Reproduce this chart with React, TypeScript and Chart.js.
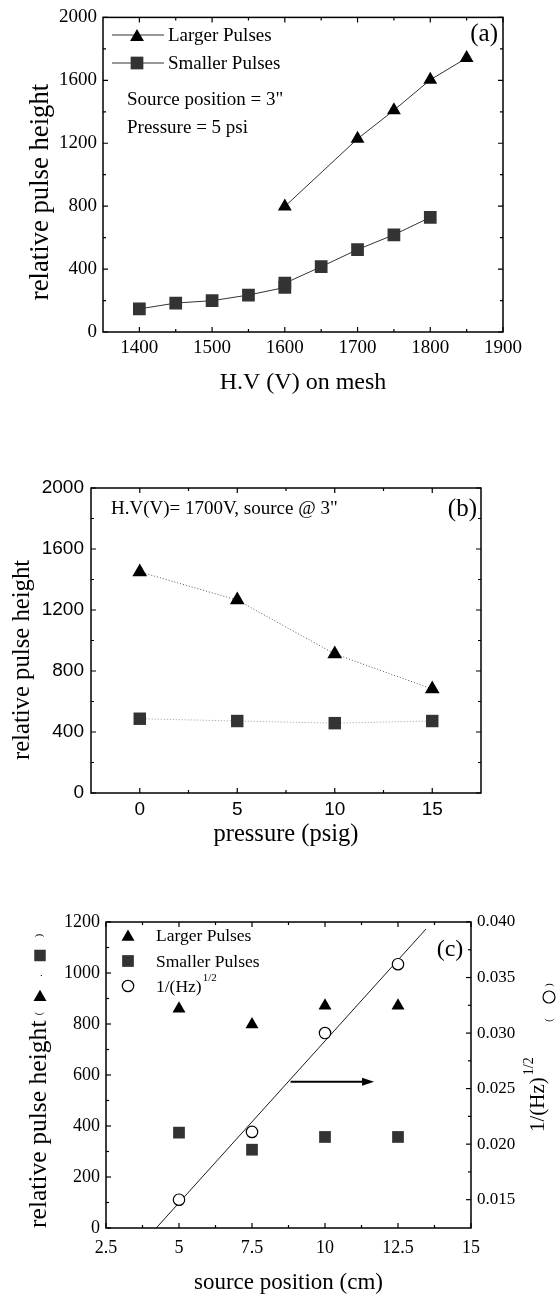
import React, { useEffect, useRef } from 'react';
import { Chart, registerables } from 'chart.js';

Chart.register(...registerables);

const SERIF = "'Liberation Serif', 'Times New Roman', serif";
const SANS = "'Liberation Sans', Arial, sans-serif";

// ---------- Panel (a) ----------
const A_HV_LARGER = [1600, 1700, 1750, 1800, 1850];
const A_LARGER = [798, 1228, 1410, 1603, 1742];
const A_HV_SMALLER = [1400, 1450, 1500, 1550, 1600, 1600, 1650, 1700, 1750, 1800];
const A_SMALLER = [147, 184, 199, 235, 283, 310, 415, 524, 618, 729];
const A_X_TICKS = [1400, 1500, 1600, 1700, 1800, 1900];
const A_X_MINOR = [1450, 1550, 1650, 1750, 1850];
const A_Y_TICKS = [0, 400, 800, 1200, 1600, 2000];
const A_Y_MINOR = [200, 600, 1000, 1400, 1800];

// ---------- Panel (b) ----------
const B_PRESSURE = [0, 5, 10, 15];
const B_LARGER = [1450, 1265, 912, 682];
const B_SMALLER = [487, 472, 458, 472];
const B_X_TICKS = [0, 5, 10, 15];
const B_X_MINOR = [2.5, 7.5, 12.5];
const B_Y_TICKS = [0, 400, 800, 1200, 1600, 2000];
const B_Y_MINOR = [200, 600, 1000, 1400, 1800];

// ---------- Panel (c) ----------
const C_POSITION = [5, 7.5, 10, 12.5];
const C_LARGER = [860, 798, 872, 872];
const C_SMALLER = [374, 307, 357, 357];
const C_INV_SQRT_HZ = [0.015, 0.0211, 0.03, 0.0362];
const C_FIT_X = [4.22, 13.46];
const C_FIT_Y = [0.01245, 0.03937];
const C_X_TICKS = [2.5, 5, 7.5, 10, 12.5, 15];
const C_X_MINOR = [3.75, 6.25, 8.75, 11.25, 13.75];
const C_Y_TICKS = [0, 200, 400, 600, 800, 1000, 1200];
const C_Y_MINOR = [100, 300, 500, 700, 900, 1100];
const C_Y2_TICKS = [0.015, 0.02, 0.025, 0.03, 0.035, 0.04];
const C_Y2_MINOR = [0.0175, 0.0225, 0.0275, 0.0325, 0.0375];
const C_ARROW_X = [8.82, 11.68];
const C_ARROW_Y = 574;

type TickSpec = { id: string; sides: string[]; major: number[]; minor: number[] };

function frameAndTicks(chart: any, specs: TickSpec[]) {
  const { ctx, chartArea: a } = chart;
  ctx.save();
  ctx.strokeStyle = '#000';
  ctx.lineWidth = 1.2;
  for (const sp of specs) {
    const s = chart.scales[sp.id];
    const groups: [number[], number][] = [[sp.major, 5], [sp.minor, 3]];
    for (const [vals, len] of groups) {
      for (const v of vals) {
        const p = s.getPixelForValue(v);
        ctx.beginPath();
        for (const side of sp.sides) {
          if (side === 'bottom') { ctx.moveTo(p, a.bottom); ctx.lineTo(p, a.bottom - len); }
          if (side === 'top') { ctx.moveTo(p, a.top); ctx.lineTo(p, a.top + len); }
          if (side === 'left') { ctx.moveTo(a.left, p); ctx.lineTo(a.left + len, p); }
          if (side === 'right') { ctx.moveTo(a.right, p); ctx.lineTo(a.right - len, p); }
        }
        ctx.stroke();
      }
    }
  }
  ctx.lineWidth = 1.5;
  ctx.strokeRect(a.left, a.top, a.right - a.left, a.bottom - a.top);
  ctx.restore();
}

function tri(ctx: any, x: number, cy: number, r: number, color: string) {
  const y = cy + r / 4; // bbox centered at cy
  ctx.beginPath();
  ctx.moveTo(x, y - r);
  ctx.lineTo(x + r * 0.866, y + r / 2);
  ctx.lineTo(x - r * 0.866, y + r / 2);
  ctx.closePath();
  ctx.fillStyle = color;
  ctx.fill();
}
function sq(ctx: any, x: number, y: number, side: number, color: string) {
  ctx.fillStyle = color;
  ctx.fillRect(x - side / 2, y - side / 2, side, side);
}
function circ(ctx: any, x: number, y: number, r: number) {
  ctx.beginPath();
  ctx.arc(x, y, r, 0, Math.PI * 2);
  ctx.fillStyle = '#fff';
  ctx.fill();
  ctx.strokeStyle = '#000';
  ctx.lineWidth = 1.2;
  ctx.stroke();
}
function text(ctx: any, s: string, x: number, y: number, font: string, align = 'left') {
  ctx.font = font;
  ctx.fillStyle = '#000';
  ctx.textAlign = align;
  ctx.textBaseline = 'middle';
  ctx.fillText(s, x, y);
}
function vText(ctx: any, s: string, x: number, y: number, font: string) {
  ctx.save();
  ctx.translate(x, y);
  ctx.rotate(-Math.PI / 2);
  text(ctx, s, 0, 0, font, 'center');
  ctx.restore();
}

const pts = (xs: number[], ys: number[]) => xs.map((x, i) => ({ x, y: ys[i] }));
const fixTicks = (vals: number[]) => (s: any) => { s.ticks = vals.map((v) => ({ value: v })); };

function baseScale(extra: any) {
  return {
    type: 'linear',
    grid: { display: false, drawTicks: false },
    border: { display: false },
    ...extra,
  };
}

function configA(): any {
  return {
    type: 'line',
    data: {
      datasets: [
        {
          label: 'Larger Pulses', data: pts(A_HV_LARGER, A_LARGER),
          borderColor: '#333', borderWidth: 1, pointStyle: 'triangle', pointRadius: 8,
          pointBackgroundColor: '#000', pointBorderWidth: 0,
        },
        {
          label: 'Smaller Pulses', data: pts(A_HV_SMALLER, A_SMALLER),
          borderColor: '#333', borderWidth: 1, pointStyle: 'rect', pointRadius: 9,
          pointBackgroundColor: '#333', pointBorderWidth: 0,
        },
      ],
    },
    options: {
      animation: false, responsive: false, devicePixelRatio: 1,
      layout: { padding: { top: 14, left: 0, right: 56, bottom: 0 } },
      plugins: { legend: { display: false }, tooltip: { enabled: false } },
      scales: {
        x: baseScale({
          position: 'bottom', min: 1350, max: 1900,
          afterBuildTicks: fixTicks(A_X_TICKS),
          afterFit: (s: any) => { s.height = 78; },
          ticks: { padding: 4.5, autoSkip: false, maxRotation: 0, color: '#000', font: { family: SERIF, size: 19 }, callback: (v: any) => String(v) },
          title: { display: true, text: 'H.V (V) on mesh', color: '#000', font: { family: SERIF, size: 24 }, padding: { top: 0, bottom: 12.6 } },
        }),
        y: baseScale({
          position: 'left', min: 0, max: 2000,
          afterBuildTicks: fixTicks(A_Y_TICKS),
          afterFit: (s: any) => { s.width = 103; },
          ticks: { padding: 6, autoSkip: false, color: '#000', font: { family: SERIF, size: 19 }, callback: (v: any) => String(v) },
        }),
      },
    },
    plugins: [{
      id: 'decorA',
      afterDraw(chart: any) {
        frameAndTicks(chart, [
          { id: 'x', sides: ['bottom', 'top'], major: A_X_TICKS, minor: A_X_MINOR },
          { id: 'y', sides: ['left', 'right'], major: A_Y_TICKS, minor: A_Y_MINOR },
        ]);
        const ctx = chart.ctx;
        ctx.save();
        vText(ctx, 'relative pulse height', 41, 192, `26.7px ${SERIF}`);
        ctx.strokeStyle = '#333';
        ctx.lineWidth = 1;
        [35, 63].forEach((y) => { ctx.beginPath(); ctx.moveTo(112, y); ctx.lineTo(164, y); ctx.stroke(); });
        tri(ctx, 137, 35, 8, '#000');
        sq(ctx, 137, 63, 12.7, '#333');
        const f = `19px ${SERIF}`;
        text(ctx, 'Larger Pulses', 168, 36, f);
        text(ctx, 'Smaller Pulses', 168, 64, f);
        text(ctx, 'Source position = 3"', 127, 100, f);
        text(ctx, 'Pressure = 5 psi', 127, 128, f);
        text(ctx, '(a)', 498, 34, `25px ${SERIF}`, 'right');
        ctx.restore();
      },
    }],
  };
}

function configB(): any {
  return {
    type: 'line',
    data: {
      datasets: [
        {
          label: 'Larger Pulses', data: pts(B_PRESSURE, B_LARGER),
          borderColor: '#555', borderWidth: 1, borderDash: [1, 2], pointStyle: 'triangle', pointRadius: 8.5,
          pointBackgroundColor: '#000', pointBorderWidth: 0,
        },
        {
          label: 'Smaller Pulses', data: pts(B_PRESSURE, B_SMALLER),
          borderColor: '#999', borderWidth: 1, borderDash: [1, 2], pointStyle: 'rect', pointRadius: 8.8,
          pointBackgroundColor: '#333', pointBorderWidth: 0,
        },
      ],
    },
    options: {
      animation: false, responsive: false, devicePixelRatio: 1,
      layout: { padding: { top: 88, left: 0, right: 78, bottom: 0 } },
      plugins: { legend: { display: false }, tooltip: { enabled: false } },
      scales: {
        x: baseScale({
          position: 'bottom', min: -2.5, max: 17.5,
          afterBuildTicks: fixTicks(B_X_TICKS),
          afterFit: (s: any) => { s.height = 67; },
          ticks: { padding: 5.5, autoSkip: false, maxRotation: 0, color: '#000', font: { family: SANS, size: 19 }, callback: (v: any) => String(v) },
          title: { display: true, text: 'pressure (psig)', color: '#000', font: { family: SERIF, size: 24.5 }, padding: { top: 0, bottom: 10.3 } },
        }),
        y: baseScale({
          position: 'left', min: 0, max: 2000,
          afterBuildTicks: fixTicks(B_Y_TICKS),
          afterFit: (s: any) => { s.width = 91; },
          ticks: { padding: 7, autoSkip: false, color: '#000', font: { family: SANS, size: 19 }, callback: (v: any) => String(v) },
        }),
      },
    },
    plugins: [{
      id: 'decorB',
      afterDraw(chart: any) {
        frameAndTicks(chart, [
          { id: 'x', sides: ['bottom', 'top'], major: B_X_TICKS, minor: B_X_MINOR },
          { id: 'y', sides: ['left', 'right'], major: B_Y_TICKS, minor: B_Y_MINOR },
        ]);
        const ctx = chart.ctx;
        ctx.save();
        vText(ctx, 'relative pulse height', 23, 260, `24.7px ${SERIF}`);
        text(ctx, 'H.V(V)= 1700V, source @ 3"', 111, 109, `19px ${SERIF}`);
        text(ctx, '(b)', 477, 109, `25px ${SERIF}`, 'right');
        ctx.restore();
      },
    }],
  };
}

function configC(): any {
  return {
    type: 'scatter',
    data: {
      datasets: [
        {
          label: 'Larger Pulses', data: pts(C_POSITION, C_LARGER), yAxisID: 'y',
          pointStyle: 'triangle', pointRadius: 7.5, pointBackgroundColor: '#000', pointBorderWidth: 0, showLine: false,
        },
        {
          label: 'Smaller Pulses', data: pts(C_POSITION, C_SMALLER), yAxisID: 'y',
          pointStyle: 'rect', pointRadius: 8.3, pointBackgroundColor: '#333', pointBorderWidth: 0, showLine: false,
        },
        {
          label: '1/(Hz)^1/2', data: pts(C_POSITION, C_INV_SQRT_HZ), yAxisID: 'y1',
          pointStyle: 'circle', pointRadius: 5.7, pointBackgroundColor: '#fff', pointBorderColor: '#000', pointBorderWidth: 1.2, showLine: false,
        },
        {
          label: 'fit', data: pts(C_FIT_X, C_FIT_Y), yAxisID: 'y1',
          showLine: true, borderColor: '#000', borderWidth: 0.9, pointRadius: 0,
        },
      ],
    },
    options: {
      animation: false, responsive: false, devicePixelRatio: 1,
      layout: { padding: { top: 62, left: 0, right: 0, bottom: 0 } },
      plugins: { legend: { display: false }, tooltip: { enabled: false } },
      scales: {
        x: baseScale({
          position: 'bottom', min: 2.5, max: 15,
          afterBuildTicks: fixTicks(C_X_TICKS),
          afterFit: (s: any) => { s.height = 70; },
          ticks: { padding: 9, autoSkip: false, maxRotation: 0, color: '#000', font: { family: SERIF, size: 18 }, callback: (v: any) => String(v) },
          title: { display: true, text: 'source position (cm)', color: '#000', font: { family: SERIF, size: 23 }, padding: { top: 0, bottom: 1.2 } },
        }),
        y: baseScale({
          position: 'left', min: 0, max: 1200,
          afterBuildTicks: fixTicks(C_Y_TICKS),
          afterFit: (s: any) => { s.width = 106; },
          ticks: { padding: 6, autoSkip: false, color: '#000', font: { family: SERIF, size: 18 }, callback: (v: any) => String(v) },
        }),
        y1: baseScale({
          position: 'right', min: 0.01245, max: 0.04,
          afterBuildTicks: fixTicks(C_Y2_TICKS),
          afterFit: (s: any) => { s.width = 88; },
          ticks: { padding: 6, autoSkip: false, color: '#000', font: { family: SERIF, size: 17 }, callback: (v: any) => Number(v).toFixed(3) },
        }),
      },
    },
    plugins: [{
      id: 'decorC',
      afterDraw(chart: any) {
        frameAndTicks(chart, [
          { id: 'x', sides: ['bottom', 'top'], major: C_X_TICKS, minor: C_X_MINOR },
          { id: 'y', sides: ['left'], major: C_Y_TICKS, minor: C_Y_MINOR },
          { id: 'y1', sides: ['right'], major: C_Y2_TICKS, minor: C_Y2_MINOR },
        ]);
        const ctx = chart.ctx;
        const xs = chart.scales.x;
        const ys = chart.scales.y;
        ctx.save();
        // arrow
        const ax0 = xs.getPixelForValue(C_ARROW_X[0]);
        const ax1 = xs.getPixelForValue(C_ARROW_X[1]);
        const ay = ys.getPixelForValue(C_ARROW_Y);
        ctx.strokeStyle = '#000';
        ctx.lineWidth = 2;
        ctx.beginPath(); ctx.moveTo(ax0, ay); ctx.lineTo(ax1 - 10, ay); ctx.stroke();
        ctx.beginPath(); ctx.moveTo(ax1, ay); ctx.lineTo(ax1 - 12, ay - 4); ctx.lineTo(ax1 - 12, ay + 4); ctx.closePath();
        ctx.fillStyle = '#000'; ctx.fill();
        // legend
        const f = `17.5px ${SERIF}`;
        tri(ctx, 128, 75, 7.5, '#000');
        sq(ctx, 128, 101, 11.7, '#333');
        circ(ctx, 128, 126, 5.7);
        text(ctx, 'Larger Pulses', 156, 76, f);
        text(ctx, 'Smaller Pulses', 156, 102, f);
        text(ctx, '1/(Hz)', 156, 127, f);
        ctx.font = f;
        const wHz = ctx.measureText('1/(Hz)').width;
        text(ctx, '1/2', 156 + wHz + 1, 118, `11px ${SERIF}`);
        text(ctx, '(c)', 450, 90, `24px ${SERIF}`, 'center');
        // left title (rotated)
        ctx.save();
        ctx.translate(39, 368);
        ctx.rotate(-Math.PI / 2);
        text(ctx, 'relative pulse height', 0, 0, `25.6px ${SERIF}`);
        ctx.font = `25.6px ${SERIF}`;
        const wL = ctx.measureText('relative pulse height').width;
        text(ctx, '(', wL + 7, 0, `10px ${SERIF}`, 'center');
        text(ctx, '.', wL + 45, 0, `10px ${SERIF}`, 'center');
        text(ctx, ')', wL + 85, 0, `10px ${SERIF}`, 'center');
        ctx.restore();
        tri(ctx, 40, 368 - (wL + 25), 7.5, '#000');
        sq(ctx, 40, 368 - (wL + 65), 11.5, '#333');
        // right title (rotated)
        ctx.save();
        ctx.translate(538, 272);
        ctx.rotate(-Math.PI / 2);
        text(ctx, '1/(Hz)', 0, 0, `21px ${SERIF}`);
        ctx.font = `21px ${SERIF}`;
        const wR = ctx.measureText('1/(Hz)').width;
        text(ctx, '1/2', wR + 2, -9, `14px ${SERIF}`);
        text(ctx, '(', 112, 11, `10px ${SERIF}`, 'center');
        text(ctx, ')', 147, 11, `10px ${SERIF}`, 'center');
        ctx.restore();
        circ(ctx, 549, 137, 6);
        ctx.restore();
      },
    }],
  };
}

function ChartCanvas({ top, height, make }: { top: number; height: number; make: () => any }) {
  const ref = useRef<HTMLCanvasElement>(null);
  useEffect(() => {
    const chart = new Chart(ref.current as HTMLCanvasElement, make());
    return () => chart.destroy();
  }, []);
  return (
    <canvas
      ref={ref}
      width={559}
      height={height}
      style={{ position: 'absolute', left: 0, top, width: 559, height, display: 'block' }}
    />
  );
}

export default function App() {
  return (
    <div style={{ position: 'absolute', left: 0, top: 0, width: 559, height: 1298, background: '#fff' }}>
      <ChartCanvas top={0} height={410} make={configA} />
      <ChartCanvas top={400} height={460} make={configB} />
      <ChartCanvas top={860} height={438} make={configC} />
    </div>
  );
}
